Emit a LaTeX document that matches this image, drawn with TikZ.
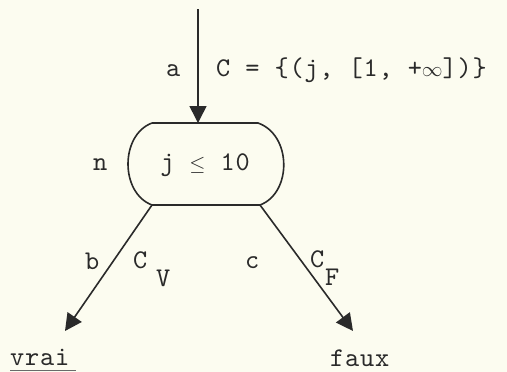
\documentclass[tikz,border=0pt]{standalone}
\usepackage{fontspec}
\usetikzlibrary{arrows.meta}
\newfontfamily\tw{lmmono10-regular.otf}[LetterSpace=3]
\newcommand{\smsym}[1]{{\fontsize{21}{24}\selectfont$#1$}}
\definecolor{paper}{HTML}{FCFCF0}
\definecolor{ink}{HTML}{2A2A2A}
\begin{document}
\begin{tikzpicture}[x=1pt,y=-1pt,
  lbl/.style={inner sep=0pt,anchor=base west,text=ink,font=\tw\fontsize{27}{30}\selectfont},
  conn/.style={draw=ink,line width=1.6pt,-{Triangle[length=17pt,width=17pt]}},
  shapeline/.style={draw=ink,line width=1.6pt}]
\fill[paper] (0,0) rectangle (507,372);
\useasboundingbox (0,0) rectangle (507,372);
% top arrow
\coordinate (start) at (198,9);
\coordinate (ntop) at (198,123);
\draw[conn] (start) -- (ntop);
\node[lbl] (la) at (166,76) {a};
\node[lbl] (lC) at (216,76) {C = \{(j, [1, +\smsym{\infty}])\}};
% condition node
\node[lbl,anchor=base] (cond) at (205,170) {j \smsym{\leq} 10};
\coordinate (tl) at (152,123);
\coordinate (tr) at (258,123);
\coordinate (br) at (260,205);
\coordinate (bl) at (152,205);
\draw[shapeline] (tl) -- (tr) .. controls (292,135) and (292,193) .. (br)
  -- (bl) .. controls (120,193) and (120,135) .. (tl);
\node[lbl] (ln) at (93,170) {n};
% branches
\coordinate (vtip) at (65,331);
\coordinate (ftip) at (353,331);
\draw[conn] (bl) -- (vtip);
\draw[conn] (br) -- (ftip);
\node[lbl] (lb) at (85,269) {b};
\node[lbl] (lCv) at (133,268) {C};
\node[lbl] (lV) at (156,286) {V};
\node[lbl] (lc) at (245,268) {c};
\node[lbl] (lCf) at (310,267) {C};
\node[lbl] (lF) at (325,285) {F};
% results
\node[lbl] (vrai) at (10,365) {vrai};
\node[lbl] (faux) at (330,366) {faux};
\draw[ink!70,line width=1.2pt] (vrai.south west) ++(0,5) -- ++(66,0);
\draw[ink!30,line width=1.2pt] (faux.south west) ++(1,6) -- ++(62,0);
\end{tikzpicture}
\end{document}
